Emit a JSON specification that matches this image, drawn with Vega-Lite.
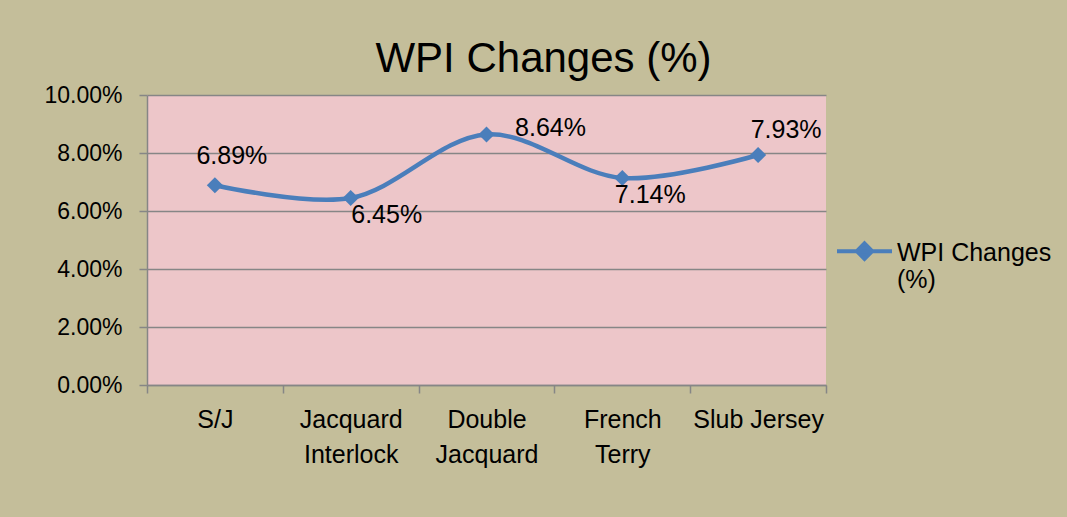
{
  "$schema": "https://vega.github.io/schema/vega-lite/v6.json",
  "width": 679,
  "height": 290,
  "autosize": {"type": "none"},
  "padding": {"left": 147, "top": 95, "right": 241, "bottom": 132},
  "background": "#C4BE9A",
  "title": {
    "text": "WPI Changes (%)",
    "fontSize": 42,
    "font": "Liberation Sans",
    "fontWeight": "normal",
    "color": "#000000",
    "anchor": "middle",
    "offset": 3,
    "dx": 57
  },
  "config": {
    "view": {"fill": "#EDC6C9", "stroke": null},
    "font": "Liberation Sans"
  },
  "data": {
    "values": [
      {"category": "S/J", "value": 0.0689},
      {"category": "Jacquard Interlock", "value": 0.0645},
      {"category": "Double Jacquard", "value": 0.0864},
      {"category": "French Terry", "value": 0.0714},
      {"category": "Slub Jersey", "value": 0.0793}
    ]
  },
  "encoding": {
    "x": {
      "field": "category",
      "type": "nominal",
      "sort": null,
      "scale": {"paddingInner": 0, "paddingOuter": 0},
      "axis": {
        "title": null,
        "labelAngle": 0,
        "labelFontSize": 25,
        "labelColor": "#000000",
        "labelPadding": 14,
        "labelLineHeight": 35,
        "labelBaseline": "top",
        "labelExpr": "datum.label == 'Slub Jersey' ? datum.label : split(datum.label, ' ')",
        "domainColor": "#868686",
        "domainWidth": 1.5,
        "tickColor": "#868686",
        "tickWidth": 1.5,
        "tickSize": 8,
        "tickBand": "extent",
        "grid": false
      }
    },
    "y": {
      "field": "value",
      "type": "quantitative",
      "scale": {"domain": [0, 0.1], "nice": false},
      "axis": {
        "title": null,
        "format": ".2%",
        "values": [0, 0.02, 0.04, 0.06, 0.08, 0.1],
        "labelFontSize": 23,
        "labelColor": "#000000",
        "labelPadding": 17,
        "domainColor": "#868686",
        "domainWidth": 1.5,
        "tickColor": "#868686",
        "tickWidth": 1.5,
        "tickSize": 8,
        "grid": true,
        "gridColor": "#868686",
        "gridWidth": 1.5
      }
    }
  },
  "layer": [
    {
      "mark": {"type": "line", "interpolate": "catmull-rom", "strokeWidth": 4.5, "color": "#4A7EBB"},
      "encoding": {
        "color": {
          "datum": "WPI Changes (%)",
          "type": "nominal",
          "scale": {"range": ["#4A7EBB"]},
          "legend": {
            "title": null,
            "orient": "none",
            "legendX": 688,
            "legendY": 128,
            "labelFontSize": 25,
            "labelColor": "#000000",
            "labelLimit": 300,
            "labelOffset": 3,
            "labelExpr": "['WPI Changes', '(%)']",
            "symbolType": "M-1,-0.05H1M0,-0.33L0.28,-0.05L0,0.23L-0.28,-0.05Z",
            "symbolSize": 3025,
            "symbolStrokeWidth": 4,
            "symbolFillColor": "#4A7EBB",
            "symbolStrokeColor": "#4A7EBB"
          }
        }
      }
    },
    {
      "mark": {"type": "point", "shape": "diamond", "filled": true, "size": 260, "color": "#4A7EBB", "opacity": 1}
    },
    {
      "transform": [{"filter": "datum.category == 'S/J'"}],
      "mark": {"type": "text", "fontSize": 25, "dx": 17, "dy": -29, "color": "#000000"},
      "encoding": {"text": {"field": "value", "format": ".2%"}}
    },
    {
      "transform": [{"filter": "datum.category == 'Jacquard Interlock'"}],
      "mark": {"type": "text", "fontSize": 25, "dx": 36, "dy": 17, "color": "#000000"},
      "encoding": {"text": {"field": "value", "format": ".2%"}}
    },
    {
      "transform": [{"filter": "datum.category == 'Double Jacquard'"}],
      "mark": {"type": "text", "fontSize": 25, "dx": 64, "dy": -6, "color": "#000000"},
      "encoding": {"text": {"field": "value", "format": ".2%"}}
    },
    {
      "transform": [{"filter": "datum.category == 'French Terry'"}],
      "mark": {"type": "text", "fontSize": 25, "dx": 28, "dy": 17, "color": "#000000"},
      "encoding": {"text": {"field": "value", "format": ".2%"}}
    },
    {
      "transform": [{"filter": "datum.category == 'Slub Jersey'"}],
      "mark": {"type": "text", "fontSize": 25, "dx": 28, "dy": -25, "color": "#000000"},
      "encoding": {"text": {"field": "value", "format": ".2%"}}
    }
  ]
}
